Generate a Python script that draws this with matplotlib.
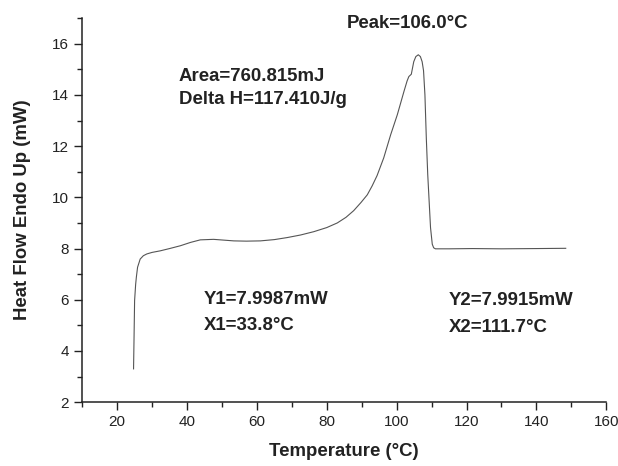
import matplotlib
matplotlib.use("Agg")
import matplotlib.pyplot as plt
from matplotlib.ticker import MultipleLocator

plt.rcParams['font.family'] = ['Liberation Sans', 'DejaVu Sans']

# DSC curve
temperature = [24.7, 24.85, 25.0, 25.3, 25.5, 25.85, 26.6, 27.5, 28.5, 30.0,
               32.3, 35.0, 38.1, 41.0, 43.8, 47.6, 50.5, 53.4, 57.0, 61.0,
               65.0, 68.7, 72.5, 76.3, 80.0, 83.0, 85.5, 87.7, 89.8, 91.6,
               93.0, 94.4, 96.3, 98.3, 100.2, 102.1, 103.0, 103.5, 104.2, 104.9,
               105.5, 106.2, 106.8, 107.3, 107.7, 108.1, 108.5, 108.9, 109.7, 110.2,
               110.6, 111.1, 115.0, 121.7, 130.0, 140.0, 148.4]
heat_flow = [3.3, 4.6, 5.97, 6.6, 6.88, 7.27, 7.59, 7.72, 7.79, 7.85,
             7.91, 8.0, 8.11, 8.24, 8.34, 8.36, 8.33, 8.30, 8.29, 8.30,
             8.35, 8.43, 8.53, 8.66, 8.82, 9.0, 9.22, 9.48, 9.8, 10.1,
             10.45, 10.85, 11.54, 12.45, 13.23, 14.14, 14.55, 14.72, 14.81, 15.3,
             15.5, 15.57, 15.5, 15.3, 14.95, 14.0, 12.3, 10.9, 8.82, 8.17,
             8.03, 7.99, 7.99, 8.0, 7.99, 8.0, 8.01]

x_ticks = [20, 40, 60, 80, 100, 120, 140, 160]
y_ticks = [2, 4, 6, 8, 10, 12, 14, 16]

fig = plt.figure(figsize=(6.18, 4.66), dpi=100)
ax = fig.add_axes([0.133, 0.137, 0.848, 0.824])

ax.plot(temperature, heat_flow, color='#555555', linewidth=0.8)

ax.set_xlim(10, 160)
ax.set_ylim(2, 17)
ax.set_xticks(x_ticks)
ax.set_yticks(y_ticks)
ax.xaxis.set_minor_locator(MultipleLocator(10))
ax.yaxis.set_minor_locator(MultipleLocator(1))
ax.tick_params(which='major', direction='out', length=6, width=1, labelsize=11,
               colors='#222222')
ax.tick_params(which='minor', direction='out', length=3.5, width=1, colors='#222222')

for side in ('top', 'right'):
    ax.spines[side].set_visible(False)
for side in ('left', 'bottom'):
    ax.spines[side].set_linewidth(1.1)
    ax.spines[side].set_color('#222222')

ax.set_xlabel('Temperature (°C)', fontsize=13.4, fontweight='bold', labelpad=10,
              color='#222222')
ax.set_ylabel('Heat Flow Endo Up (mW)', fontsize=13.4, fontweight='bold', labelpad=15,
              color='#222222')

# annotations
txt = dict(fontsize=13.4, fontweight='bold', color='#222222', va='center')
ax.text(103.2, 16.78, 'Peak=106.0°C', ha='center', clip_on=False, **txt)
ax.text(37.6, 14.73, 'Area=760.815mJ', ha='left', **txt)
ax.text(37.6, 13.84, 'Delta H=117.410J/g', ha='left', **txt)
ax.text(44.7, 6.02, 'Y1=7.9987mW', ha='left', **txt)
ax.text(44.7, 4.98, 'X1=33.8°C', ha='left', **txt)
ax.text(114.8, 5.98, 'Y2=7.9915mW', ha='left', **txt)
ax.text(114.8, 4.92, 'X2=111.7°C', ha='left', **txt)

fig.savefig('out.png', dpi=100)
